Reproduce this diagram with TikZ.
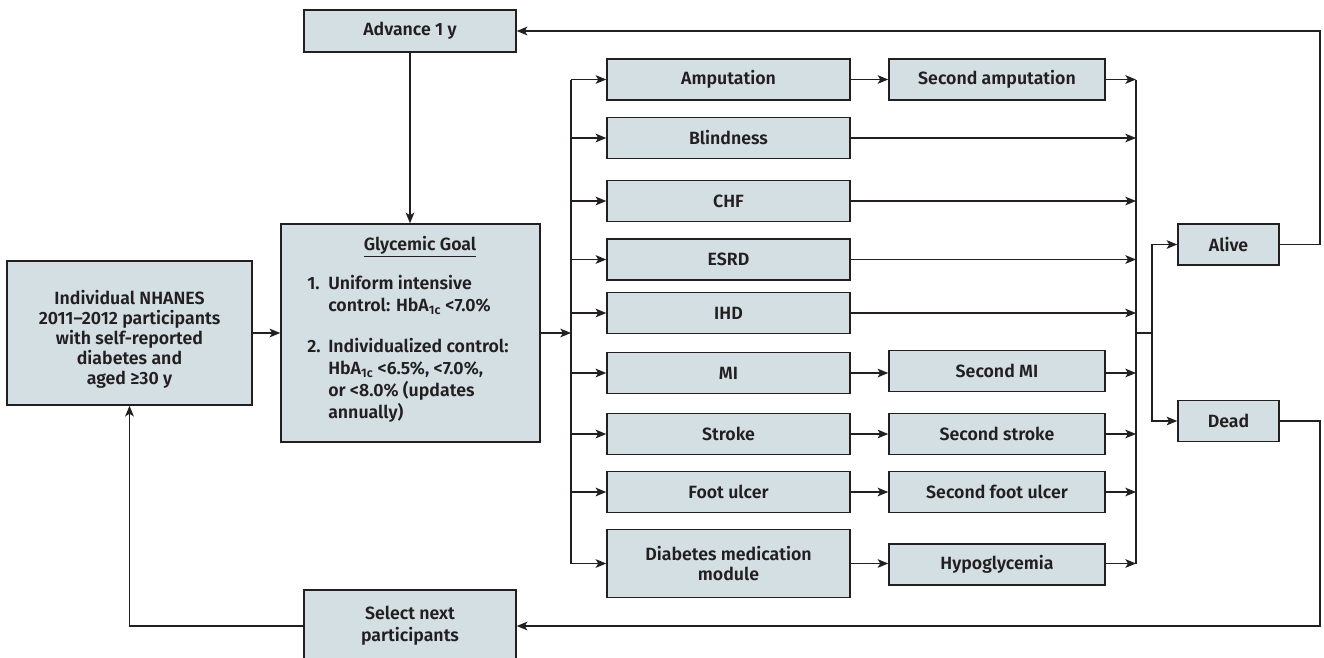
\documentclass[tikz,border=0pt]{standalone}
\usepackage{fontspec}
\setmainfont{Fira Sans}[BoldFont={Fira Sans SemiBold}]
\usetikzlibrary{arrows.meta}
\definecolor{boxfill}{RGB}{211,223,227}
\definecolor{ink}{RGB}{35,31,32}
\begin{document}
\begin{tikzpicture}[x=0.75pt,y=-0.75pt,
  box/.style={draw=ink,fill=boxfill,line width=1.1pt,inner sep=0pt,align=center,
    font=\fontsize{13.3}{15}\selectfont\bfseries,text=ink},
  txt/.style={inner sep=0pt,text=ink,font=\fontsize{13.3}{16.6}\selectfont\bfseries},
  bx/.style n args={2}{minimum width=#1*0.75pt,minimum height=#2*0.75pt},
  arr/.style={draw=ink,line width=0.95pt,-{Stealth[length=8pt,width=6.5pt,inset=2pt]}},
  ln/.style={draw=ink,line width=0.95pt}]
\useasboundingbox (0,0) rectangle (1324,657);

% left part
\node[box,bx={212}{42}] (adv) at (410,31) {Advance 1 y};
\node[box,bx={259}{218}] (gly) at (410.5,333) {};
\node[txt] (glyt) at (420,247) {\underline{Glycemic Goal}};
\node[txt,anchor=north west,align=left] (glyl) at (307,275) {%
  \makebox[15.75pt][l]{1.}Uniform intensive\\
  \hspace*{15.75pt}control: HbA\textsubscript{1c} <7.0\%\\[14pt]
  \makebox[15.75pt][l]{2.}Individualized control:\\
  \hspace*{15.75pt}HbA\textsubscript{1c} <6.5\%, <7.0\%,\\
  \hspace*{15.75pt}or <8.0\% (updates\\
  \hspace*{15.75pt}annually)};
\node[box,bx={245}{144}] (nh) at (129.5,333) {};
\node[txt,align=center,font=\fontsize{13.3}{15}\selectfont\bfseries] (nht) at (129.5,339) {Individual NHANES\\2011--2012 participants\\with self-reported\\diabetes and\\aged ≥30 y};
\node[box,bx={212}{72},font=\fontsize{13.3}{16.5}\selectfont\bfseries] (sel) at (410,626) {Select next\\participants};

% first column
\foreach \n/\t/\y in {amp/Amputation/79.5, blind/Blindness/138, chf/CHF/201, esrd/ESRD/259.5,
  ihd/IHD/313, mi/MI/373, stroke/Stroke/434, foot/Foot ulcer/492}
  \node[box,bx={243}{41}] (\n) at (728.5,\y) {\t};
\node[box,bx={243}{68}] (med) at (728.5,563.5) {Diabetes medication\\module};

% second column
\node[box,bx={216}{41}] (amp2) at (997,79.5) {Second amputation};
\node[box,bx={216}{41}] (mi2) at (997,371) {Second MI};
\node[box,bx={216}{41}] (stroke2) at (997,434) {Second stroke};
\node[box,bx={216}{41}] (foot2) at (997,492) {Second foot ulcer};
\node[box,bx={216}{41}] (hypo) at (997,564.5) {Hypoglycemia};

% outcome
\node[box,bx={101}{41}] (alive) at (1228.5,244.5) {Alive};
\node[box,bx={101}{41}] (dead) at (1228.5,421) {Dead};

\coordinate (bx) at (571,333);
\coordinate (mx) at (1136,333);
\coordinate (ax) at (1152,333);
\coordinate (rx) at (1320,333);

% connectors
\draw[arr] (adv.south) -- (adv.south |- gly.north);
\draw[arr] (nh.east) -- (gly.west);
\draw[arr] (gly.east) -- (bx);
\draw[ln] (amp.west -| bx) -- (med.west -| bx);
\foreach \n in {amp,blind,chf,esrd,ihd,mi,stroke,foot,med}
  \draw[arr] (\n.west -| bx) -- (\n.west);
\foreach \a/\b in {amp/amp2,mi/mi2,stroke/stroke2,foot/foot2}
  \draw[arr] (\a.east) -- (\a.east -| \b.west);
\draw[arr] (med.east) -- (med.east -| hypo.west);
\foreach \n in {blind,chf,esrd,ihd}
  \draw[arr] (\n.east) -- (\n.east -| mx);
\draw[arr] (amp2.east) -- (amp2.east -| mx);
\foreach \a/\b in {mi/mi2,stroke/stroke2,foot/foot2,med/hypo}
  \draw[arr] (\a.east -| \b.east) -- (\a.east -| mx);
\draw[ln] (amp2.east -| mx) -- (med.east -| mx);
\draw[ln] (mx) -- (ax);
\draw[arr] (ax) |- (alive.west);
\draw[arr] (ax) |- (dead.west);
\draw[arr] (alive.east) -- (alive.east -| rx) |- (adv.east);
\draw[arr] (dead.east) -- (dead.east -| rx) |- (sel.east);
\draw[arr] (sel.west) -| (nh.south);
\end{tikzpicture}
\end{document}
